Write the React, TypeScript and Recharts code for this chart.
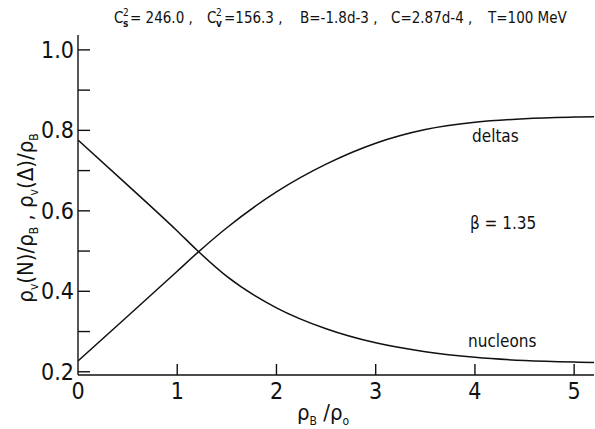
import React from 'react';
import { LineChart, Line, XAxis, YAxis } from 'recharts';

// values
const density = [0, 0.5, 1, 1.2, 1.5, 2, 2.5, 3, 3.5, 4, 4.5, 5, 5.2];
const nucleons = [0.776, 0.664, 0.55, 0.502, 0.437, 0.359, 0.307, 0.272, 0.25, 0.236, 0.228, 0.224, 0.223];
const deltas = [0.227, 0.338, 0.45, 0.495, 0.558, 0.647, 0.716, 0.768, 0.802, 0.82, 0.829, 0.833, 0.834];

const xTicks = [0, 1, 2, 3, 4, 5];
const yTicks = [0.2, 0.3, 0.4, 0.5, 0.6, 0.7, 0.8, 0.9, 1.0];
const yLabels = ['0.2', '0.4', '0.6', '0.8', '1.0'];

const data = density.map((d, i) => ({ x: d, nucleons: nucleons[i], deltas: deltas[i] }));

const FONT = '"DejaVu Sans Condensed", "Liberation Sans Narrow", "Roboto Condensed", Roboto, sans-serif';
const INK = '#111';

const LeftTick = (props: any) => {
  const { x, y, payload } = props;
  const label = yLabels.find((l) => Math.abs(parseFloat(l) - payload.value) < 1e-6);
  return (
    <g>
      <line x1={x} y1={y} x2={x + 12} y2={y} stroke={INK} strokeWidth={1.4} />
      {label && (
        <text x={x - 4} y={y + 8} textAnchor="end" fontSize={23} fontFamily={FONT} fill={INK}>
          {label}
        </text>
      )}
    </g>
  );
};

const RightTick = (props: any) => {
  const { x, y } = props;
  return <line x1={x} y1={y} x2={x - 5} y2={y} stroke={INK} strokeWidth={1.4} />;
};

const BottomTick = (props: any) => {
  const { x, y, payload } = props;
  return (
    <g>
      {payload.value !== 0 && <line x1={x} y1={y} x2={x} y2={y - 11} stroke={INK} strokeWidth={1.4} />}
      <text x={x} y={y + 24} textAnchor="middle" fontSize={23} fontFamily={FONT} fill={INK}>
        {payload.value}
      </text>
    </g>
  );
};

const TopTick = (props: any) => {
  const { x, y } = props;
  return <line x1={x} y1={y} x2={x} y2={y + 5} stroke={INK} strokeWidth={1.4} />;
};

export default function App() {
  return (
    <div style={{ position: 'absolute', left: 0, top: 0, width: 595, height: 429, background: '#fff' }}>
      <LineChart width={595} height={429} data={data} margin={{ top: 35, right: 1, bottom: 0, left: 18 }}>
        <XAxis
          dataKey="x"
          type="number"
          domain={[0, 5.2]}
          ticks={xTicks}
          allowDataOverflow
          height={54}
          tickSize={0}
          tickMargin={0}
          tick={<BottomTick />}
          axisLine={{ stroke: INK, strokeWidth: 1.4 }}
        />
        <XAxis
          xAxisId="top"
          orientation="top"
          dataKey="x"
          type="number"
          domain={[0, 5.2]}
          ticks={[1, 2, 3, 4, 5]}
          allowDataOverflow
          height={0}
          tickSize={0}
          tickMargin={0}
          tick={<TopTick />}
          axisLine={{ stroke: INK, strokeWidth: 1.4 }}
        />
        <YAxis
          type="number"
          domain={[0.192, 1.037]}
          ticks={yTicks}
          allowDataOverflow
          width={60}
          tickSize={0}
          tickMargin={0}
          tick={<LeftTick />}
          axisLine={{ stroke: INK, strokeWidth: 1.4 }}
        />
        <YAxis
          yAxisId="right"
          orientation="right"
          type="number"
          domain={[0.192, 1.037]}
          ticks={[0.2, 0.4, 0.6, 0.8, 1.0]}
          allowDataOverflow
          width={0}
          tickSize={0}
          tickMargin={0}
          tick={<RightTick />}
          axisLine={{ stroke: INK, strokeWidth: 1.4 }}
        />
        <Line type="monotone" dataKey="nucleons" stroke={INK} strokeWidth={1.5} dot={false} isAnimationActive={false} />
        <Line type="monotone" dataKey="deltas" stroke={INK} strokeWidth={1.5} dot={false} isAnimationActive={false} />
      </LineChart>
      <svg width={595} height={429} style={{ position: 'absolute', left: 0, top: 0, pointerEvents: 'none' }}>
        <g fontFamily={FONT} fill={INK}>
          {/* title */}
          <g fontSize={15}>
            <text x={114} y={23}>C</text>
            <text x={123} y={16} fontSize={10}>2</text>
            <text x={123} y={27} fontSize={10} fontWeight="bold">s</text>
            <text x={130} y={23}>= 246.0 ,</text>
            <text x={207} y={23}>C</text>
            <text x={216} y={16} fontSize={10}>2</text>
            <text x={216} y={27} fontSize={10} fontWeight="bold">v</text>
            <text x={224} y={23}>=156.3 ,</text>
            <text x={300} y={23}>B=-1.8d-3 ,</text>
            <text x={391} y={23}>C=2.87d-4 ,</text>
            <text x={488} y={23}>T=100 MeV</text>
          </g>
          {/* annotations */}
          <text x={472} y={142} fontSize={17}>deltas</text>
          <text x={470} y={229} fontSize={17}>β = 1.35</text>
          <text x={468} y={347} fontSize={17}>nucleons</text>
          {/* x axis label */}
          <text x={323} y={420} textAnchor="middle" fontSize={22}>
            ρ<tspan dy={5} fontSize={12}>B</tspan>
            <tspan dy={-5}> /ρ</tspan>
            <tspan dy={5} fontSize={12}>o</tspan>
          </text>
          {/* y axis label */}
          <text transform="translate(33,218) rotate(-90)" textAnchor="middle" fontSize={22}>
            ρ<tspan dy={5} fontSize={12}>v</tspan>
            <tspan dy={-5}>(N)/ρ</tspan>
            <tspan dy={5} fontSize={12}>B</tspan>
            <tspan dy={-5}> ,  ρ</tspan>
            <tspan dy={5} fontSize={12}>v</tspan>
            <tspan dy={-5}>(Δ)/ρ</tspan>
            <tspan dy={5} fontSize={12}>B</tspan>
          </text>
        </g>
      </svg>
    </div>
  );
}
